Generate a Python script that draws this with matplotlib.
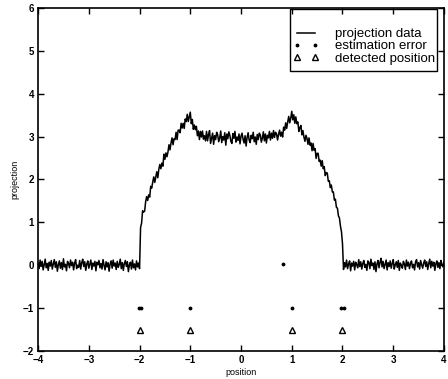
import numpy as np
import matplotlib
matplotlib.use("Agg")
import matplotlib.pyplot as plt
from matplotlib.patches import Rectangle

plt.rcParams['font.family'] = ['Liberation Sans', 'DejaVu Sans']

# projection samples, x from -4 to 4 in equal steps
base_left = [0.05, -0.08, 0.12, -0.03, 0.09, -0.11, 0.02, 0.14, -0.06, 0.04,
             -0.12, 0.07, -0.02, 0.11, -0.09, 0.03, 0.13, -0.05, 0.08, -0.14,
             0.01, 0.10, -0.07, 0.06, -0.10, 0.15, -0.04, 0.02, -0.13, 0.09,
             0.04, -0.06, 0.12, -0.01, 0.07, -0.11, 0.05, 0.13, -0.08, 0.00,
             -0.05, 0.11, -0.09, 0.06, 0.14, -0.03, 0.08, -0.12, 0.03, 0.10,
             -0.07, 0.02, 0.12, -0.10, 0.05, -0.02, 0.09, -0.13, 0.07, 0.01,
             0.11, -0.06, 0.04, -0.09, 0.13, 0.00, -0.11, 0.08, -0.04, 0.06,
             -0.14, 0.03, 0.10, -0.07, 0.12, -0.02, 0.05, -0.10, 0.09, -0.05,
             0.02, 0.14, -0.08, 0.06, -0.12, 0.04, 0.11, -0.03, 0.08, -0.15,
             0.01, 0.07, -0.09, 0.12, -0.06, 0.03, -0.11, 0.10, -0.04, 0.05,
             -0.08]
rise_left = [0.88, 0.98, 1.27, 1.24, 1.26, 1.48, 1.60, 1.51, 1.64, 1.59,
             1.84, 1.80, 1.94, 2.06, 1.93, 2.05, 2.18, 2.04, 2.24, 2.35,
             2.25, 2.38, 2.31, 2.59, 2.47, 2.62, 2.53, 2.64, 2.81, 2.69,
             2.85, 2.97, 2.81, 2.95, 2.93, 3.10, 2.93, 3.15, 3.15, 3.09,
             3.31, 3.20, 3.31, 3.19, 3.41, 3.35, 3.52, 3.35, 3.46, 3.57,
             3.30, 3.40, 3.17, 3.27, 3.16, 3.24, 3.02, 3.13, 2.93, 3.12,
             2.99, 3.13, 2.94, 3.02, 2.90]
plateau = [3.12, 2.90, 3.05, 3.14, 2.84, 2.96, 3.08, 2.82, 3.02, 2.93,
           3.10, 3.04, 2.88, 2.97, 3.13, 2.86, 3.00, 2.92, 3.09, 2.80,
           3.06, 2.95, 3.11, 3.03, 2.89, 2.84, 3.07, 2.96, 3.12, 2.87,
           2.99, 2.91, 3.06, 2.83, 3.01, 3.08, 2.94, 2.85, 3.02, 2.78,
           2.98, 3.09, 2.92, 2.86, 3.03, 2.95, 3.10, 2.88, 2.99, 2.82,
           3.05, 2.93, 3.08, 3.04, 2.87, 2.96, 3.11, 2.90, 3.06, 2.85,
           3.03, 2.97, 3.12, 2.92, 3.08, 2.96, 3.14, 2.98, 3.10]
fall_right = [3.06, 2.92, 3.05, 3.15, 3.01, 3.10, 2.99, 3.22, 3.15, 3.32,
              3.19, 3.34, 3.47, 3.32, 3.43, 3.59, 3.39, 3.51, 3.31, 3.46,
              3.30, 3.34, 3.12, 3.21, 3.26, 3.04, 3.14, 2.99, 2.89, 3.03,
              2.96, 2.82, 2.97, 2.80, 2.85, 2.67, 2.84, 2.68, 2.72, 2.49,
              2.61, 2.61, 2.42, 2.45, 2.31, 2.44, 2.25, 2.30, 2.09, 2.16,
              2.15, 1.96, 1.97, 1.81, 1.87, 1.71, 1.71, 1.52, 1.54, 1.35,
              1.33, 1.15, 1.10, 0.91, 0.78, 0.50]
base_right = [-0.10, 0.06, -0.04, 0.12, -0.08, 0.03, 0.10, -0.13, 0.05, -0.02,
              0.09, -0.11, 0.07, 0.01, -0.06, 0.13, -0.03, 0.08, -0.09, 0.04,
              0.11, -0.05, 0.02, -0.12, 0.10, 0.06, -0.08, 0.14, -0.01, 0.05,
              -0.10, 0.08, -0.15, 0.03, 0.11, -0.06, 0.07, 0.16, -0.04, 0.09,
              -0.08, 0.02, 0.12, -0.11, 0.06, -0.03, 0.10, -0.07, 0.04, 0.13,
              -0.09, 0.01, 0.08, -0.05, 0.11, -0.12, 0.05, 0.00, -0.07, 0.09,
              0.03, -0.10, 0.12, -0.02, 0.07, -0.08, 0.04, 0.10, -0.06, 0.02,
              -0.11, 0.08, 0.13, -0.04, 0.06, -0.09, 0.11, 0.01, -0.07, 0.05,
              0.12, -0.03, 0.08, -0.10, 0.04, 0.14, -0.06, 0.09, -0.02, 0.07,
              -0.12, 0.03, 0.10, -0.05, 0.06, -0.08, 0.11, 0.02, -0.04, 0.08]

projection = base_left + rise_left + plateau + fall_right + base_right
position = np.linspace(-4, 4, len(projection))

err_x = [-2.02, -1.98, -1.0, 0.82, 1.0, 1.97, 2.03]
err_y = [-1.0, -1.0, -1.0, 0.03, -1.0, -1.0, -1.0]

det_x = [-2.0, -1.0, 1.0, 2.0]
det_y = [-1.5, -1.5, -1.5, -1.5]

xticks = [-4, -3, -2, -1, 0, 1, 2, 3, 4]
yticks = [-2, -1, 0, 1, 2, 3, 4, 5, 6]

fig = plt.figure(figsize=(4.48, 3.79), dpi=100)
ax = fig.add_axes([0.085, 0.074, 0.906, 0.905])

ax.plot(position, projection, color='black', lw=1.1, label='projection data')
ax.plot(err_x, err_y, ls='none', marker='.', color='black', markersize=3.5,
        label='estimation error')
ax.plot(det_x, det_y, ls='none', marker='^', markerfacecolor='white',
        markeredgecolor='black', markersize=4.5, markeredgewidth=1.0,
        label='detected position')

ax.set_xlim(-4, 4)
ax.set_ylim(-2, 6)
ax.set_xticks(xticks)
ax.set_yticks(yticks)
ax.tick_params(direction='in', top=True, right=True, length=4, width=1,
               labelsize=7, pad=3)
for lbl in ax.get_xticklabels() + ax.get_yticklabels():
    lbl.set_fontweight('bold')
for s in ax.spines.values():
    s.set_linewidth(1.2)

ax.set_xlabel('position', fontsize=6.5, labelpad=2)
ax.set_ylabel('projection', fontsize=6.5, labelpad=2)

leg = ax.legend(loc='center left', bbox_to_anchor=(0.628, 0.888),
                prop={'size': 9.5}, frameon=False,
                borderpad=0, labelspacing=0.0, numpoints=2,
                handlelength=2.0, handletextpad=1.2, borderaxespad=0)
ax.add_patch(Rectangle((0.62, 0.817), 0.362, 0.18, transform=ax.transAxes,
                       fill=False, edgecolor='black', lw=1.0, zorder=5))

fig.savefig('out.png', dpi=100)
